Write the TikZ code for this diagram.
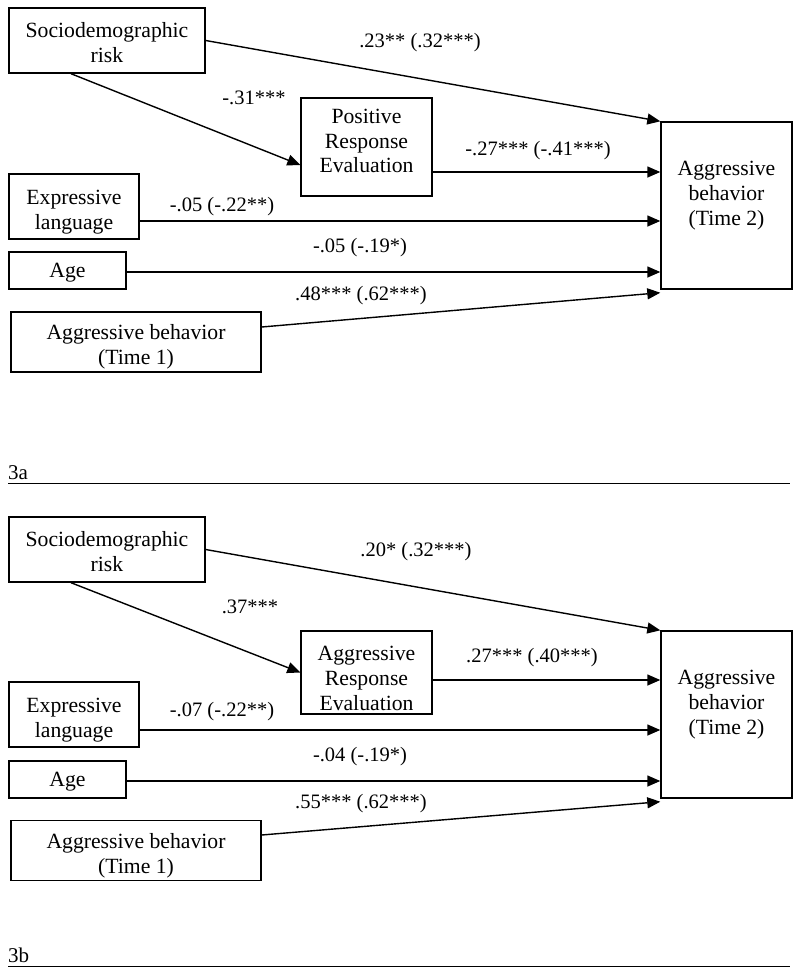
\documentclass[tikz,border=0pt]{standalone}
\usepackage{fontspec}
\setmainfont{Liberation Serif}
\usetikzlibrary{arrows.meta}

\tikzset{
  box/.style={draw, line width=1.4pt, align=center, inner sep=0pt,
    font=\fontsize{21.7}{24.8}\selectfont},
  effect/.style={line width=1.4pt, -{Triangle[length=13pt,width=11pt]}},
  coef/.style={font=\fontsize{20.5}{23}\selectfont},
  figcap/.style={font=\fontsize{21}{24}\selectfont, inner sep=0pt},
}
% struts to move box text up or down
\newcommand{\lowerby}[1]{\rule{0pt}{#1}}
\newcommand{\raiseby}[1]{\rule[-#1]{0pt}{0pt}}

\begin{document}
\begin{tikzpicture}[x=1pt, y=-1pt, line cap=butt, line join=miter]

\useasboundingbox (0,0) rectangle (800,975);

% ---------- Panel 3a ----------
\node[box, minimum width=196pt, minimum height=65pt] (socA) at (107,40.5) {\lowerby{19pt}Sociodemographic\\risk};
\node[box, minimum width=131pt, minimum height=98pt] (preA) at (366.5,147) {Positive\\Response\\Evaluation\raiseby{12pt}};
\node[box, minimum width=131pt, minimum height=167pt] (outA) at (726.5,205.5) {Aggressive\\behavior\\(Time 2)\raiseby{24pt}};
\node[box, minimum width=130pt, minimum height=65pt] (exprA) at (74,206.5) {\lowerby{25pt}Expressive\\language};
\node[box, minimum width=117pt, minimum height=37pt] (ageA) at (67.5,270.5) {\lowerby{19pt}Age};
\node[box, minimum width=250pt, minimum height=60pt] (aggA) at (136,342) {\lowerby{25pt}Aggressive behavior\\(Time 1)};

% Paths
\draw[effect] (socA.east) -- (outA.north west);
\draw[effect] ([xshift=-36pt]socA.south) -- ([yshift=-18pt]preA.west);
\draw[effect] ([yshift=-25pt]preA.east) -- ([yshift=-25pt]preA.east -| outA.west);
\draw[effect] ([yshift=-14.5pt]exprA.east) -- ([yshift=-14.5pt]exprA.east -| outA.west);
\draw[effect] ([yshift=-1.5pt]ageA.east) -- ([yshift=-1.5pt]ageA.east -| outA.west);
\draw[effect] ([yshift=15pt]aggA.east) -- ([yshift=-3pt]outA.south west);

% Coefficients
\node[coef] (cA1) at (420,43) {.23** (.32***)};
\node[coef] (cA2) at (254,98) {-.31***};
\node[coef] (cA3) at (538,151) {-.27*** (-.41***)};
\node[coef] (cA4) at (222,207) {-.05 (-.22**)};
\node[coef] (cA5) at (360,248) {-.05 (-.19*)};
\node[coef] (cA6) at (361,296) {.48*** (.62***)};

% Caption
\node[figcap, anchor=base west] (capA) at (8,479) {3a};
\draw[line width=1pt] (8,483) -- (790,483);

% ---------- Panel 3b ----------
\node[box, minimum width=196pt, minimum height=65pt] (socB) at (107,549.5) {\lowerby{19pt}Sociodemographic\\risk};
\node[box, minimum width=131pt, minimum height=83pt] (preB) at (366.5,672.5) {\lowerby{26pt}Aggressive\\Response\\Evaluation};
\node[box, minimum width=131pt, minimum height=167pt] (outB) at (726.5,714.5) {Aggressive\\behavior\\(Time 2)\raiseby{24pt}};
\node[box, minimum width=130pt, minimum height=65pt] (exprB) at (74,714.5) {\lowerby{25pt}Expressive\\language};
\node[box, minimum width=117pt, minimum height=37pt] (ageB) at (67.5,779.5) {\lowerby{19pt}Age};
\node[box, minimum width=250pt, minimum height=60pt] (aggB) at (136,850.5) {\lowerby{25pt}Aggressive behavior\\(Time 1)};

% Paths
\draw[effect] (socB.east) -- (outB.north west);
\draw[effect] ([xshift=-36pt]socB.south) -- (preB.west);
\draw[effect] ([yshift=-7.5pt]preB.east) -- ([yshift=-7.5pt]preB.east -| outB.west);
\draw[effect] ([yshift=-15.5pt]exprB.east) -- ([yshift=-15.5pt]exprB.east -| outB.west);
\draw[effect] ([yshift=-1.5pt]ageB.east) -- ([yshift=-1.5pt]ageB.east -| outB.west);
\draw[effect] ([yshift=15.5pt]aggB.east) -- ([yshift=-3pt]outB.south west);

% Coefficients
\node[coef] (cB1) at (416,552) {.20* (.32***)};
\node[coef] (cB2) at (250,607) {.37***};
\node[coef] (cB3) at (532,658) {.27*** (.40***)};
\node[coef] (cB4) at (222,712) {-.07 (-.22**)};
\node[coef] (cB5) at (360,757) {-.04 (-.19*)};
\node[coef] (cB6) at (361,804) {.55*** (.62***)};

% Caption
\node[figcap, anchor=base west] (capB) at (8,962) {3b};
\draw[line width=1pt] (8,966) -- (790,966);

\end{tikzpicture}
\end{document}
